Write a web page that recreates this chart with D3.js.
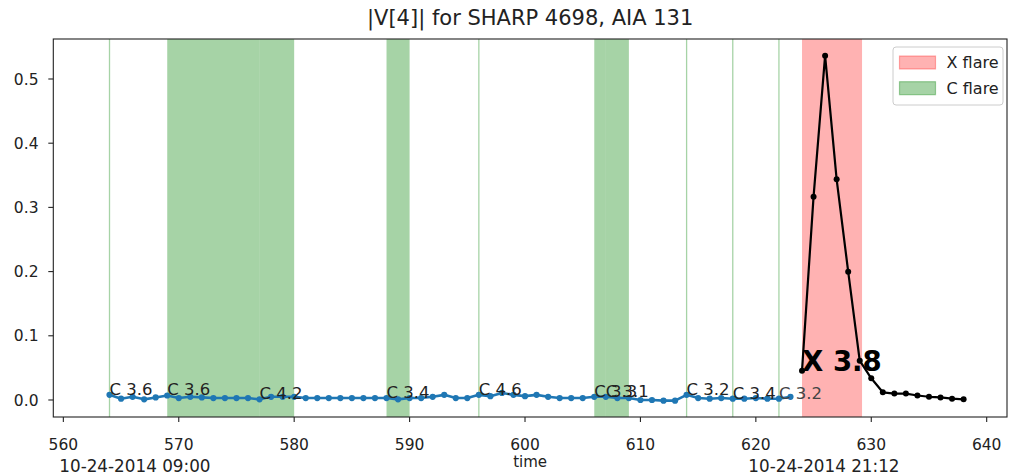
<!DOCTYPE html>
<html>
<head>
<meta charset="utf-8">
<script src="https://cdn.jsdelivr.net/npm/d3@7"></script>
<style>
  html, body { margin: 0; padding: 0; background: #fff; }
  svg { display: block; font-family: "DejaVu Sans", sans-serif; }
</style>
</head>
<body>
<svg id="chart" width="1010" height="476"></svg>
<script>
// |V[4]| time series around the flare window (time index, value)
const quietTimes = d3.range(564, 624);
const quietValues = [
  0.008, 0.002, 0.005, 0.001, 0.004, 0.007, 0.003, 0.005, 0.004, 0.003,
  0.003, 0.003, 0.003, 0.001, 0.005, 0.005, 0.005, 0.003, 0.003, 0.003,
  0.003, 0.003, 0.003, 0.003, 0.003, 0.001, 0.003, 0.003, 0.005, 0.008,
  0.003, 0.003, 0.008, 0.006, 0.011, 0.008, 0.006, 0.008, 0.005, 0.003,
  0.003, 0.003, 0.005, 0.005, 0.003, 0.003, 0.000, 0.000, -0.001, -0.001,
  0.008, 0.003, 0.002, 0.003, 0.002, 0.002, 0.003, 0.002, 0.002, 0.005
];
const flareTimes = d3.range(624, 639);
const flareValues = [
  0.0457, 0.3167, 0.5363, 0.3438, 0.1999, 0.0612, 0.0338, 0.012,
  0.010, 0.010, 0.007, 0.005, 0.004, 0.002, 0.001
];

// Flare events: class label, start, end, kind
const flareLabels = ["C 3.6", "C 3.6", "C 4.2", "C 3.4", "C 4.6", "C 3.3", "C 3.1", "C 3.2", "C 3.4", "C 3.2", "X 3.8"];
const flareStarts = [564, 569, 577, 588, 596, 606, 607, 614, 618, 622, 624];
const flareEnds   = [564, 577, 580, 590, 596, 607, 609, 614, 618, 622, 629.2];
const flareKinds  = ["C", "C", "C", "C", "C", "C", "C", "C", "C", "C", "X"];

const xTicks = [560, 570, 580, 590, 600, 610, 620, 630, 640];
const yTicks = [0.0, 0.1, 0.2, 0.3, 0.4, 0.5];
const dateLabels = ["10-24-2014 09:00", "10-24-2014 21:12"];
const dateTimes = [566.2, 625.9];
const legendLabels = ["X flare", "C flare"];

const svg = d3.select("#chart");
const padL = 53.3, padR = 1007, padT = 39, padB = 417;

const x = d3.scaleLinear().domain([559.13, 641.76]).range([padL, padR]);
const y = d3.scaleLinear().domain([-0.0265, 0.5623]).range([padB, padT]);

const spanColor = { C: "rgb(0,128,0)", X: "rgb(255,0,0)" };
const spanAlpha = { C: 0.35, X: 0.3 };

const plot = svg.append("g");

// shaded flare intervals; instantaneous events become thin vertical lines
flareStarts.forEach((s, i) => {
  const k = flareKinds[i];
  const x0 = x(s), x1 = x(flareEnds[i]);
  if (x1 - x0 < 0.5) {
    plot.append("line")
      .attr("x1", x0).attr("x2", x0).attr("y1", padT).attr("y2", padB)
      .attr("stroke", spanColor[k]).attr("stroke-opacity", spanAlpha[k])
      .attr("stroke-width", 1.3);
  } else {
    plot.append("rect")
      .attr("x", x0).attr("y", padT)
      .attr("width", x1 - x0).attr("height", padB - padT)
      .attr("fill", spanColor[k]).attr("fill-opacity", spanAlpha[k]);
  }
});

const line = d3.line().x(d => x(d[0])).y(d => y(d[1]));
const quiet = quietTimes.map((t, i) => [t, quietValues[i]]);
const flare = flareTimes.map((t, i) => [t, flareValues[i]]);

plot.append("path").datum(quiet)
  .attr("d", line).attr("fill", "none")
  .attr("stroke", "#1f77b4").attr("stroke-width", 2.6).attr("stroke-linejoin", "round");
plot.selectAll(".qdot").data(quiet).enter().append("circle")
  .attr("cx", d => x(d[0])).attr("cy", d => y(d[1])).attr("r", 3.1)
  .attr("fill", "#1f77b4");

plot.append("path").datum(flare)
  .attr("d", line).attr("fill", "none")
  .attr("stroke", "#000").attr("stroke-width", 2.2).attr("stroke-linejoin", "round");
plot.selectAll(".fdot").data(flare).enter().append("circle")
  .attr("cx", d => x(d[0])).attr("cy", d => y(d[1])).attr("r", 3)
  .attr("fill", "#000");

// flare class labels, placed at the series value at each start time
const valueAt = t => {
  const qi = quietTimes.indexOf(t);
  if (qi >= 0) return quietValues[qi];
  const fi = flareTimes.indexOf(t);
  return fi >= 0 ? flareValues[fi] : 0;
};
flareLabels.forEach((lab, i) => {
  const isX = flareKinds[i] === "X";
  plot.append("text")
    .attr("x", x(flareStarts[i])).attr("y", y(valueAt(flareStarts[i])))
    .attr("font-size", isX ? 27.6 : 16.5)
    .attr("font-weight", isX ? "bold" : "normal")
    .attr("fill", isX ? "#000" : (i === flareLabels.length - 2 ? "#444" : "#222"))
    .text(lab);
});

// axes frame
svg.append("rect")
  .attr("x", padL).attr("y", padT).attr("width", padR - padL).attr("height", padB - padT)
  .attr("fill", "none").attr("stroke", "#222").attr("stroke-width", 1.1);

// x axis
const xa = svg.append("g");
xTicks.forEach(t => {
  xa.append("line").attr("x1", x(t)).attr("x2", x(t)).attr("y1", padB).attr("y2", padB + 5)
    .attr("stroke", "#222").attr("stroke-width", 1.1);
  xa.append("text").attr("x", x(t)).attr("y", 450).attr("text-anchor", "middle")
    .attr("font-size", 15.5).attr("fill", "#222").text(t);
});
// y axis
const ya = svg.append("g");
yTicks.forEach(t => {
  ya.append("line").attr("x1", padL - 5).attr("x2", padL).attr("y1", y(t)).attr("y2", y(t))
    .attr("stroke", "#222").attr("stroke-width", 1.1);
  ya.append("text").attr("x", 38.5).attr("y", y(t) + 5.6).attr("text-anchor", "end")
    .attr("font-size", 15.5).attr("fill", "#222").text(t.toFixed(1));
});

// time axis label and dates
svg.append("text").attr("x", (padL + padR) / 2).attr("y", 467).attr("text-anchor", "middle")
  .attr("font-size", 15).attr("fill", "#222").text("time");
dateLabels.forEach((d, i) => {
  svg.append("text").attr("x", x(dateTimes[i])).attr("y", 472).attr("text-anchor", "middle")
    .attr("font-size", 16.8).attr("fill", "#222").text(d);
});

// title
svg.append("text").attr("x", (padL + padR) / 2).attr("y", 25).attr("text-anchor", "middle")
  .attr("font-size", 21).attr("fill", "#222").text("|V[4]| for SHARP 4698, AIA 131");

// legend
const lg = svg.append("g");
lg.append("rect").attr("x", 893).attr("y", 47).attr("width", 110).attr("height", 58).attr("rx", 3)
  .attr("fill", "#fff").attr("fill-opacity", 0.8).attr("stroke", "#ccc").attr("stroke-width", 1);
["X", "C"].forEach((k, i) => {
  const cy = 62.5 + i * 25.7;
  lg.append("rect").attr("x", 899.5).attr("y", cy - 6.5).attr("width", 36).attr("height", 13)
    .attr("fill", spanColor[k]).attr("fill-opacity", spanAlpha[k])
    .attr("stroke", spanColor[k]).attr("stroke-opacity", spanAlpha[k]).attr("stroke-width", 1.2);
  lg.append("text").attr("x", 946.5).attr("y", cy + 5.8).attr("font-size", 16)
    .attr("fill", "#222").text(legendLabels[i]);
});
</script>
</body>
</html>
